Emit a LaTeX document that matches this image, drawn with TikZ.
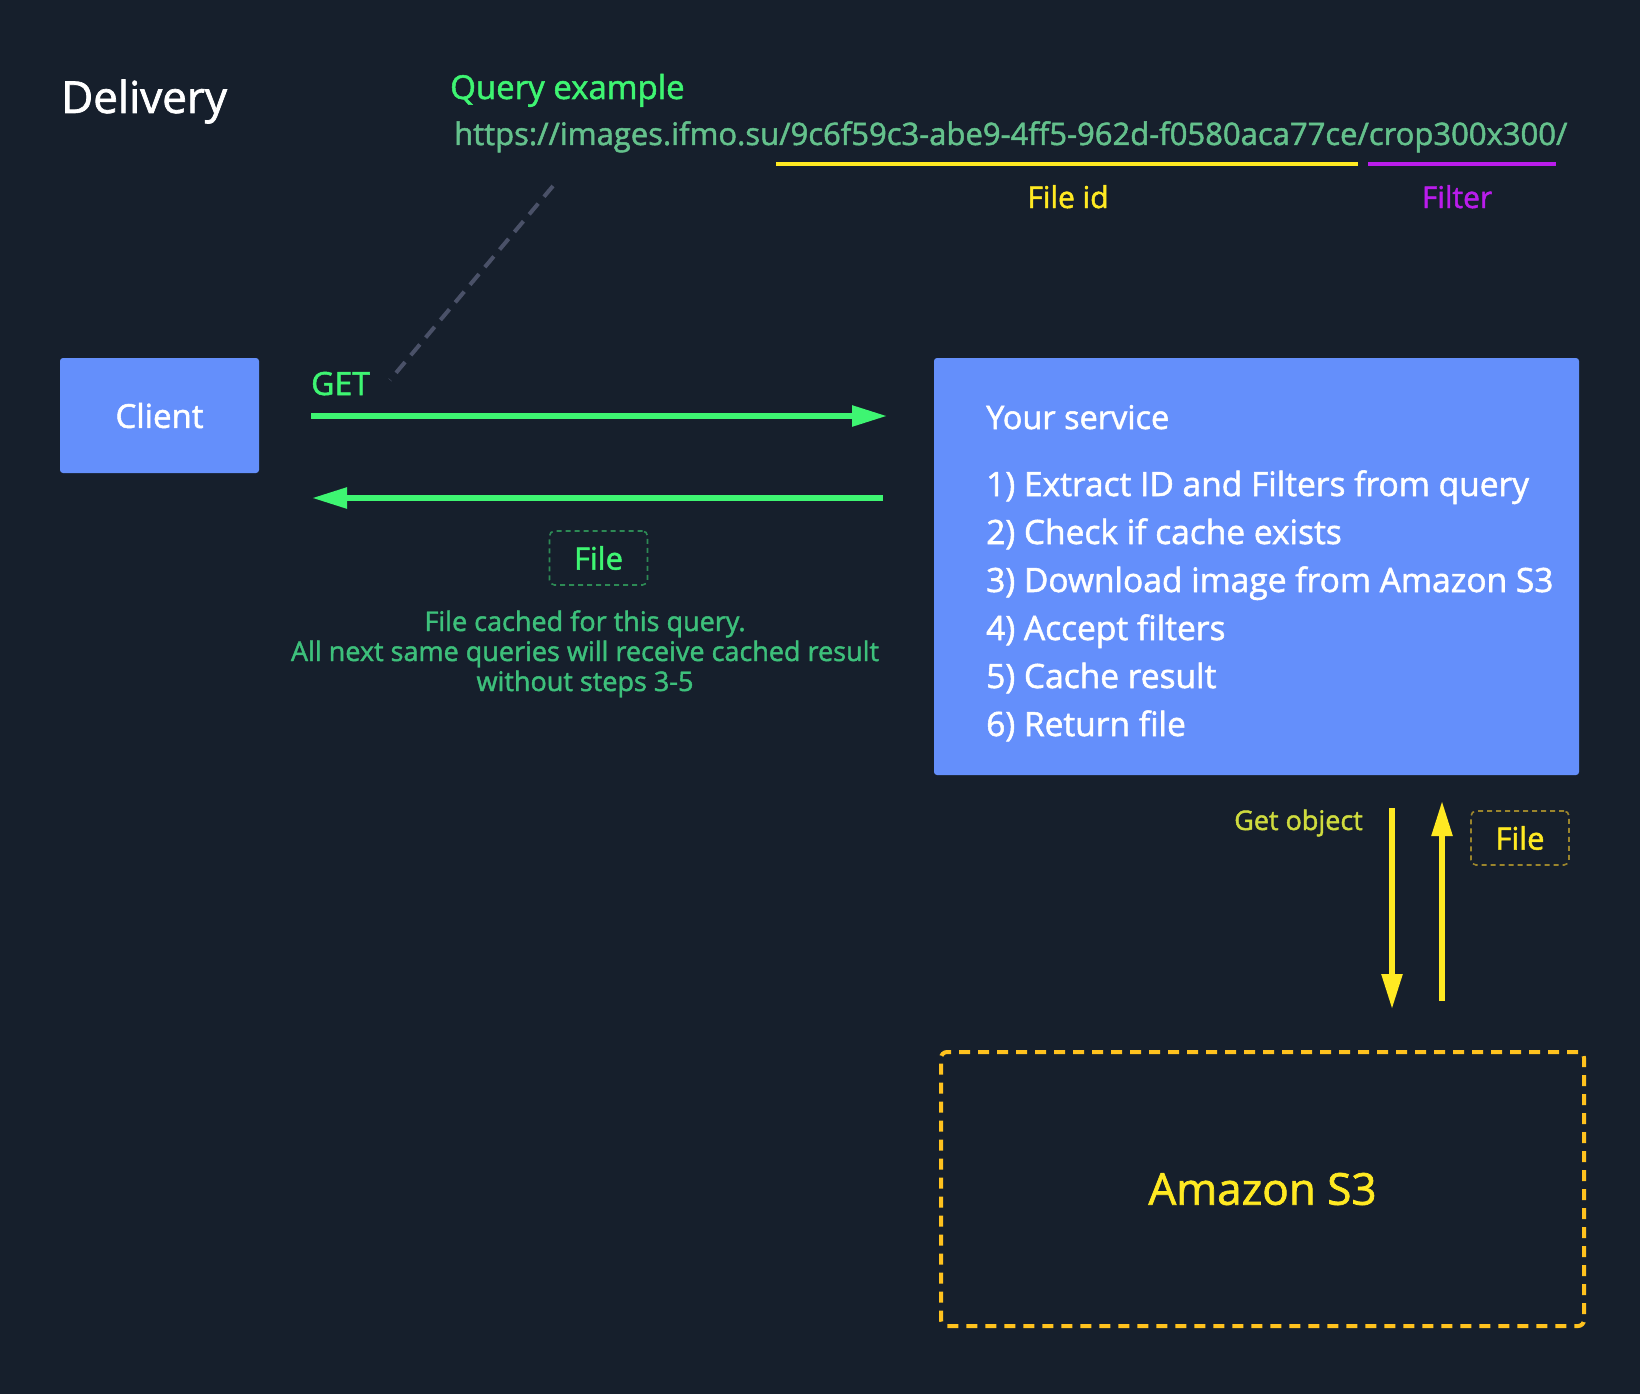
\documentclass[tikz,border=0pt]{standalone}
\usepackage{fontspec}
\setmainfont{Open Sans}[FakeBold=1.6]
\usetikzlibrary{arrows.meta, positioning}
\definecolor{bgnavy}{HTML}{161F2C}
\definecolor{boxblue}{HTML}{648FFB}
\definecolor{getgreen}{HTML}{3EF572}
\definecolor{urlgreen}{HTML}{64C18C}
\definecolor{notegreen}{HTML}{3DC07B}
\definecolor{dimgreen}{HTML}{2D8A55}
\definecolor{idyellow}{HTML}{FFE922}
\definecolor{filterpurple}{HTML}{BA1CEC}
\definecolor{objyellow}{HTML}{CFDB3E}
\definecolor{s3gold}{HTML}{FFC21E}
\definecolor{dimgold}{HTML}{9B852C}
\definecolor{hintgray}{HTML}{4A5168}
\tikzset{>={Triangle[length=35pt,width=20pt]}}
\newcommand{\fsz}[1]{\fontsize{#1}{#1}\selectfont}
\tikzset{
  txt/.style={anchor=base west, inner sep=0pt},
  bluebox/.style={fill=boxblue, rounded corners=3pt, text=white, inner sep=0pt},
  filetag/.style={draw, dashed, dash pattern=on 5pt off 4pt, line width=1.6pt, rounded corners=5pt,
    minimum width=98pt, minimum height=54pt, inner sep=0pt, font=\fsz{31}},
  flow/.style={->, line width=5.5pt}
}

\begin{document}
\begin{tikzpicture}[x=1pt, y=-1pt]
\fill[bgnavy](0,0)rectangle(1640,1394);
\useasboundingbox (0,0)rectangle(1640,1394);
% header
\node[txt, text=white, font=\fsz{44}] (title) at (61,113){Delivery};
\node[txt, text=getgreen, font=\fsz{33}] (qlabel) at (450,99){Query example};
\node[txt, text=urlgreen, font=\fsz{31}] (url) at (454,145){https://images.ifmo.su/9c6f59c3-abe9-4ff5-962d-f0580aca77ce/crop300x300/};
\coordinate (idA) at (776,164); \coordinate (idB) at (1358,164);
\coordinate (fltA) at (1368,164); \coordinate (fltB) at (1556,164);
\draw[idyellow, line width=4pt](idA)--(idB);
\draw[filterpurple, line width=4pt](fltA)--(fltB);
\node[anchor=base, inner sep=0pt, text=idyellow, font=\fsz{30}] (fileid) at (1068,208){File id};
\node[anchor=base, inner sep=0pt, text=filterpurple, font=\fsz{30}] (filter) at (1457,208){Filter};
\coordinate (hintA) at (553,186); \coordinate (hintB) at (390,380);
\draw[hintgray, line width=4pt, dash pattern=on 14pt off 9pt](hintA)--(hintB);
% client and service
\node[bluebox, minimum width=199pt, minimum height=115pt, font=\fsz{33}] (client) at (159.5,415.5){Client};
\node[bluebox, minimum width=645pt, minimum height=417pt] (service) at (1256.5,566.5){};
\node[txt, text=white, font=\fsz{32.5}] (svctitle) at (986,429){Your service};
\node[txt, text=white, font=\fsz{33.5}] (step1) at (986,496){1) Extract ID and Filters from query};
\node[txt, text=white, font=\fsz{33.5}] (step2) at (986,544){2) Check if cache exists};
\node[txt, text=white, font=\fsz{33.5}] (step3) at (986,592){3) Download image from Amazon S3};
\node[txt, text=white, font=\fsz{33.5}] (step4) at (986,640){4) Accept filters};
\node[txt, text=white, font=\fsz{33.5}] (step5) at (986,688){5) Cache result};
\node[txt, text=white, font=\fsz{33.5}] (step6) at (986,736){6) Return file};
% client <-> service
\node[txt, text=getgreen, font=\fsz{32}] (get) at (311,395){GET};
\coordinate (getA) at (311,416); \coordinate (getB) at (887,416);
\coordinate (retA) at (883,498); \coordinate (retB) at (312,498);
\draw[flow, getgreen](getA)--(getB);
\draw[flow, getgreen](retA)--(retB);
\node[filetag, dimgreen, text=getgreen] (filegreen) at (598.5,558){File};
\node[anchor=base, inner sep=0pt, text=notegreen, font=\fsz{27}, align=center] (note) at (585,691)
  {File cached for this query.\\[3pt]All next same queries will receive cached result\\[3pt]without steps 3-5};
% service <-> S3
\node[anchor=base east, inner sep=0pt, text=objyellow, font=\fsz{27}] (getobj) at (1363,830){Get object};
\coordinate (reqA) at (1392,808); \coordinate (reqB) at (1392,1009);
\coordinate (resA) at (1442,1001); \coordinate (resB) at (1442,801);
\draw[flow, idyellow](reqA)--(reqB);
\draw[flow, idyellow](resA)--(resB);
\node[filetag, dimgold, text=idyellow] (fileyellow) at (1520,838){File};
\node[draw=s3gold, line width=4pt, dash pattern=on 11pt off 8pt, rounded corners=6pt,
  minimum width=643pt, minimum height=274pt, text=idyellow, font=\fsz{44}] (s3) at (1262.5,1189){Amazon S3};
\end{tikzpicture}
\end{document}
